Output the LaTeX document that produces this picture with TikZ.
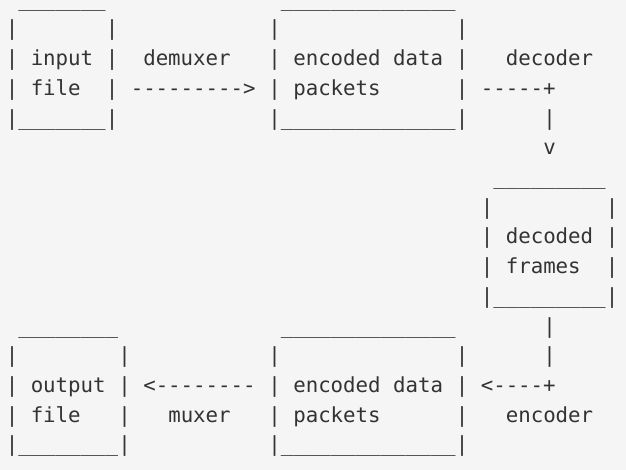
\documentclass[tikz,border=0pt]{standalone}
\usepackage{fontspec}
\setmonofont{DejaVu Sans Mono}
\definecolor{asciibg}{HTML}{F5F5F5}
\definecolor{asciifg}{HTML}{333333}
\tikzset{
  ascii/.style={anchor=base west, inner sep=0pt, outer sep=0pt, text=asciifg,
    font=\fontsize{20.76pt}{20.76pt}\selectfont\ttfamily},
}
% a run of #1 underscores
\newcommand\us[1]{\foreach \i in {1,...,#1}{\_}}
% ascii box: name, left col, right col, top row, bottom row
\newcommand\asciibox[5]{%
  \pgfmathtruncatemacro\bw{#3-#2-1}%
  \pgfmathtruncatemacro\rs{#4+1}%
  \node[ascii] (#1-top) at (#2+1,#4) {\us{\bw}};
  \node[ascii] (#1-bot) at (#2+1,#5) {\us{\bw}};
  \foreach \r in {\rs,...,#5}{
    \node[ascii] (#1-l\r) at (#2,\r) {|};
    \node[ascii] (#1-r\r) at (#3,\r) {|};
  }%
}
\begin{document}
\begin{tikzpicture}[x=12.5pt,y=-29.7pt]
  \fill[asciibg] (-5.75pt,6.3pt) rectangle (620.25pt,-463.7pt);
  \useasboundingbox (-5.75pt,6.3pt) rectangle (620.25pt,-463.7pt);
  % boxes
  \asciibox{input}{0}{8}{0}{4}
  \asciibox{pktA}{21}{36}{0}{4}
  \asciibox{frames}{38}{48}{6}{10}
  \asciibox{output}{0}{9}{11}{15}
  \asciibox{pktB}{21}{36}{11}{15}
  % box texts
  \node[ascii] (inputA) at (2,2) {input};
  \node[ascii] (inputB) at (2,3) {file};
  \node[ascii] (pktAa) at (23,2) {encoded data};
  \node[ascii] (pktAb) at (23,3) {packets};
  \node[ascii] (framesA) at (40,8) {decoded};
  \node[ascii] (framesB) at (40,9) {frames};
  \node[ascii] (outputA) at (2,13) {output};
  \node[ascii] (outputB) at (2,14) {file};
  \node[ascii] (pktBa) at (23,13) {encoded data};
  \node[ascii] (pktBb) at (23,14) {packets};
  % arrows and their labels
  \node[ascii] (demux) at (11,2) {demuxer};
  \node[ascii] (demuxArr) at (10,3) {--------->};
  \node[ascii] (decod) at (40,2) {decoder};
  \node[ascii] (decodArr) at (38,3) {-----+};
  \node[ascii] (decodA) at (43,4) {|};
  \node[ascii] (decodB) at (43,5) {v};
  \node[ascii] (encodA) at (43,11) {|};
  \node[ascii] (encodB) at (43,12) {|};
  \node[ascii] (encodArr) at (38,13) {<----+};
  \node[ascii] (encod) at (40,14) {encoder};
  \node[ascii] (muxArr) at (11,13) {<--------};
  \node[ascii] (mux) at (13,14) {muxer};
\end{tikzpicture}
\end{document}
